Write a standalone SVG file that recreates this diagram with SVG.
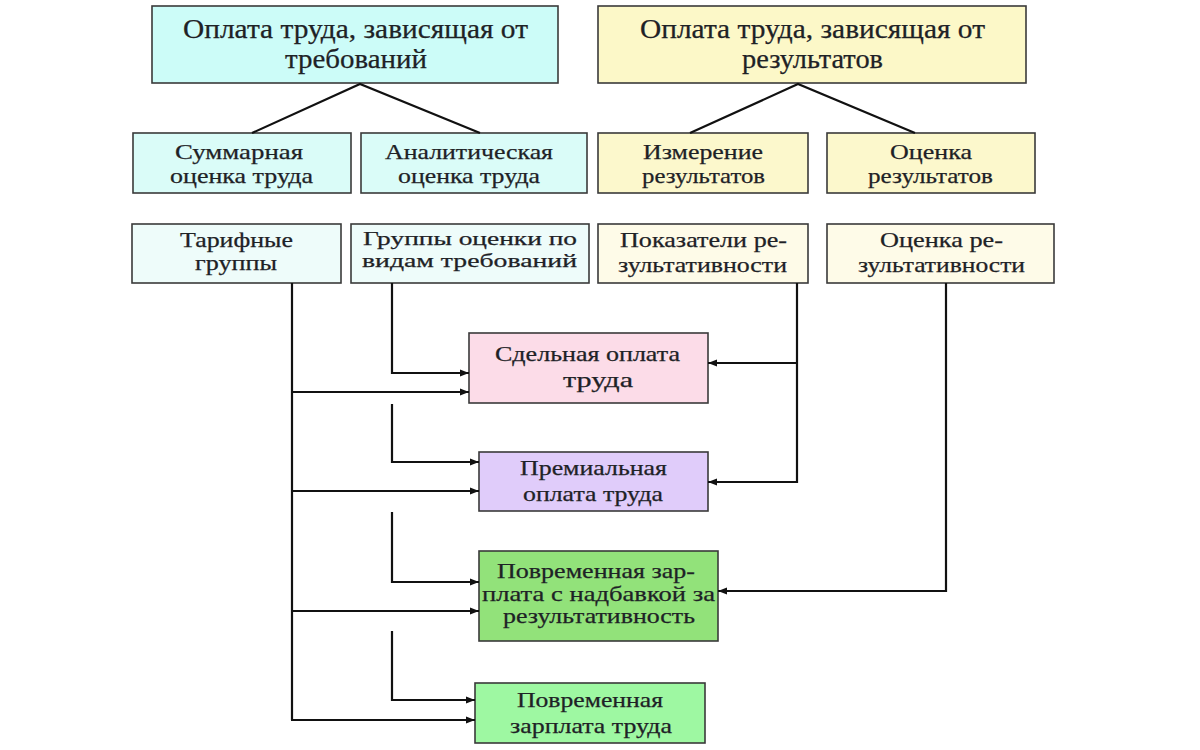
<svg xmlns="http://www.w3.org/2000/svg" width="1200" height="750" viewBox="0 0 1200 750">
<defs>
<marker id="ah" viewBox="0 0 10 10" refX="10" refY="5" markerWidth="9" markerHeight="9" markerUnits="userSpaceOnUse" orient="auto">
<path d="M0,1 L10,5 L0,9 Z" fill="#111"/>
</marker>
<style>
.b{stroke:#3a3a3a;stroke-width:1.6}
.t{font-family:"Liberation Serif","Times New Roman",serif;fill:#1e2226;stroke:#1e2226;stroke-width:0.25;text-anchor:middle}
.t1{font-size:27px}
.t2{font-size:22px}
.t3{font-size:21px}
.t4{font-size:19.5px}
.c{fill:none;stroke:#111;stroke-width:2.2}
.a{fill:none;stroke:#111;stroke-width:2.2;marker-end:url(#ah)}
</style>
</defs>
<rect width="1200" height="750" fill="#ffffff"/>
<g id="n-req">
<rect class="b" x="152" y="6" width="406" height="77" fill="#ccfcf8"/>
<text class="t t1" x="355.5" y="38" textLength="345" lengthAdjust="spacingAndGlyphs">Оплата труда, зависящая от</text>
<text class="t t1" x="356" y="68" textLength="142" lengthAdjust="spacingAndGlyphs">требований</text>
</g>
<g id="n-res">
<rect class="b" x="598" y="6" width="428" height="77" fill="#fcf8c8"/>
<text class="t t1" x="812.5" y="38" textLength="345" lengthAdjust="spacingAndGlyphs">Оплата труда, зависящая от</text>
<text class="t t1" x="812.5" y="68" textLength="141" lengthAdjust="spacingAndGlyphs">результатов</text>
</g>
<g id="n-sum">
<rect class="b" x="133" y="133" width="218" height="60" fill="#dafcf8"/>
<text class="t t2" x="239" y="159" textLength="128" lengthAdjust="spacingAndGlyphs">Суммарная</text>
<text class="t t2" x="241.5" y="183" textLength="143" lengthAdjust="spacingAndGlyphs">оценка труда</text>
</g>
<g id="n-anal">
<rect class="b" x="361" y="133" width="226" height="60" fill="#dafcf8"/>
<text class="t t2" x="469" y="159" textLength="168" lengthAdjust="spacingAndGlyphs">Аналитическая</text>
<text class="t t2" x="469" y="183" textLength="142" lengthAdjust="spacingAndGlyphs">оценка труда</text>
</g>
<g id="n-meas">
<rect class="b" x="598" y="133" width="210" height="60" fill="#fcf8cc"/>
<text class="t t2" x="703" y="159" textLength="120" lengthAdjust="spacingAndGlyphs">Измерение</text>
<text class="t t2" x="703.5" y="183" textLength="123" lengthAdjust="spacingAndGlyphs">результатов</text>
</g>
<g id="n-eval">
<rect class="b" x="827" y="133" width="208" height="60" fill="#fcf8cc"/>
<text class="t t2" x="931" y="159" textLength="82" lengthAdjust="spacingAndGlyphs">Оценка</text>
<text class="t t2" x="930.5" y="183" textLength="125" lengthAdjust="spacingAndGlyphs">результатов</text>
</g>
<g id="n-tarif">
<rect class="b" x="132" y="224" width="209" height="59" fill="#eefcfa"/>
<text class="t t3" x="236.5" y="247" textLength="113" lengthAdjust="spacingAndGlyphs">Тарифные</text>
<text class="t t3" x="236" y="270" textLength="82" lengthAdjust="spacingAndGlyphs">группы</text>
</g>
<g id="n-groups">
<rect class="b" x="351" y="224" width="238" height="59" fill="#eefcfa"/>
<text class="t t4" x="470" y="245" textLength="214" lengthAdjust="spacingAndGlyphs">Группы оценки  по</text>
<text class="t t4" x="469.5" y="267" textLength="215" lengthAdjust="spacingAndGlyphs">видам требований</text>
</g>
<g id="n-ind">
<rect class="b" x="598" y="224" width="210" height="59" fill="#fefbe8"/>
<text class="t t3" x="703.5" y="247" textLength="167" lengthAdjust="spacingAndGlyphs">Показатели ре-</text>
<text class="t t3" x="702.5" y="272" textLength="169" lengthAdjust="spacingAndGlyphs">зультативности</text>
</g>
<g id="n-est">
<rect class="b" x="827" y="224" width="227" height="59" fill="#fefbe8"/>
<text class="t t3" x="941.5" y="247" textLength="123" lengthAdjust="spacingAndGlyphs">Оценка ре-</text>
<text class="t t3" x="941.5" y="272" textLength="167" lengthAdjust="spacingAndGlyphs">зультативности</text>
</g>
<g id="n-piece">
<rect class="b" x="469" y="333" width="239" height="70" fill="#fcdce8"/>
<text class="t t3" x="587.5" y="361" textLength="185" lengthAdjust="spacingAndGlyphs">Сдельная оплата</text>
<text class="t t3" x="598" y="387" textLength="70" lengthAdjust="spacingAndGlyphs">труда</text>
</g>
<g id="n-bonus">
<rect class="b" x="479" y="452" width="229" height="59" fill="#e0ccfa"/>
<text class="t t3" x="593.5" y="475" textLength="147" lengthAdjust="spacingAndGlyphs">Премиальная</text>
<text class="t t3" x="593" y="501" textLength="140" lengthAdjust="spacingAndGlyphs">оплата труда</text>
</g>
<g id="n-timeplus">
<rect class="b" x="479" y="551" width="239" height="90" fill="#92e27a"/>
<text class="t t3" x="596" y="578" textLength="198" lengthAdjust="spacingAndGlyphs">Повременная  зар-</text>
<text class="t t3" x="598.5" y="601" textLength="233" lengthAdjust="spacingAndGlyphs">плата с надбавкой за</text>
<text class="t t3" x="599" y="623" textLength="192" lengthAdjust="spacingAndGlyphs">результативность</text>
</g>
<g id="n-time">
<rect class="b" x="475" y="683" width="230" height="60" fill="#9ef8a2"/>
<text class="t t3" x="590" y="707" textLength="146" lengthAdjust="spacingAndGlyphs">Повременная</text>
<text class="t t3" x="591" y="733" textLength="162" lengthAdjust="spacingAndGlyphs">зарплата труда</text>
</g>
<g id="connectors">
<polyline class="c" points="252,133 360,84 480,133"/>
<polyline class="c" points="690,133 798,84 915,133"/>
<line class="c" x1="292" y1="283" x2="292" y2="720"/>
<line class="a" x1="292" y1="392" x2="469" y2="392"/>
<line class="a" x1="292" y1="491" x2="479" y2="491"/>
<line class="a" x1="292" y1="611" x2="479" y2="611"/>
<line class="a" x1="291" y1="720" x2="475" y2="720"/>
<polyline class="a" points="392,283 392,373 469,373"/>
<polyline class="a" points="392,404 392,462 479,462"/>
<polyline class="a" points="392,512 392,582 479,582"/>
<polyline class="a" points="392,631 392,700 475,700"/>
<line class="c" x1="797" y1="283" x2="797" y2="483"/>
<line class="a" x1="797" y1="363" x2="708" y2="363"/>
<line class="a" x1="798" y1="482" x2="708" y2="482"/>
<polyline class="a" points="946,283 946,591 718,591"/>
</g>
</svg>
